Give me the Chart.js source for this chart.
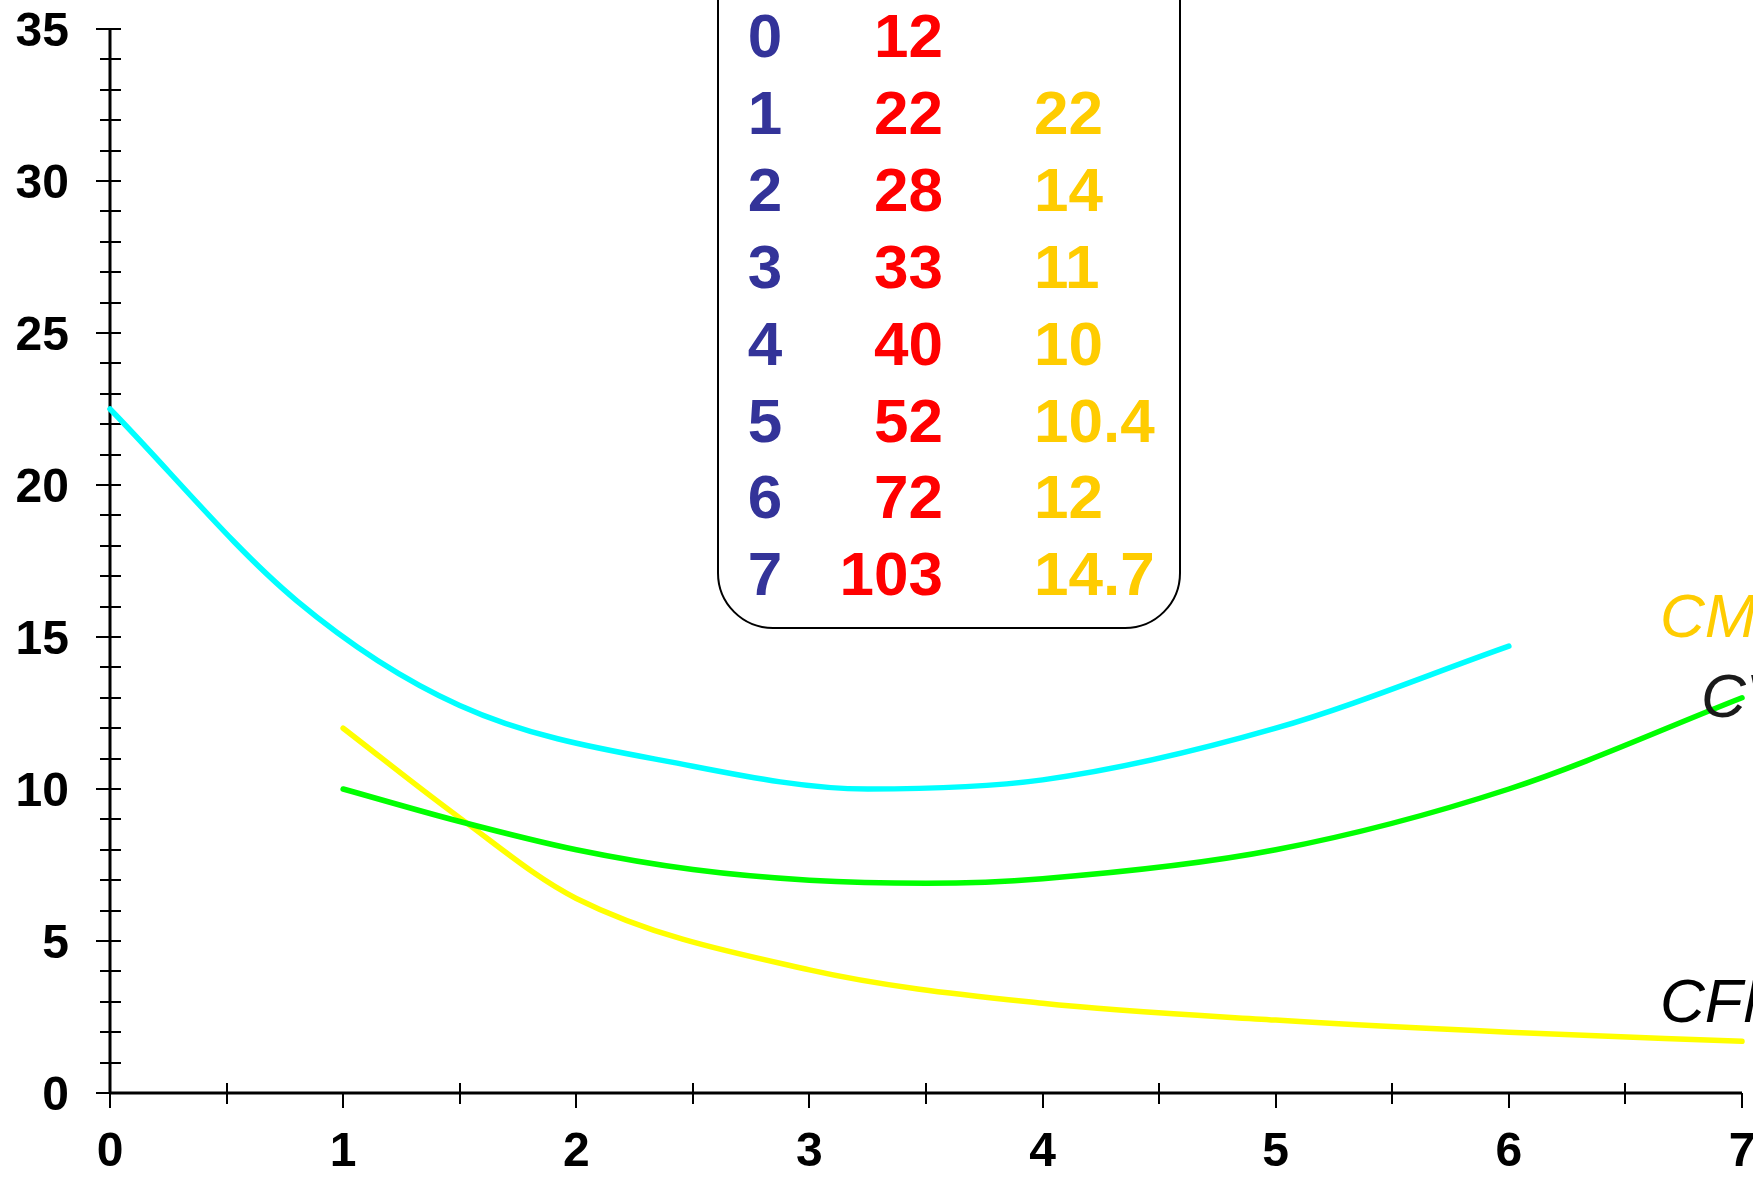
<!DOCTYPE html>
<html>
<head>
<meta charset="utf-8">
<script src="https://cdn.jsdelivr.net/npm/chart.js@4.4.0/dist/chart.umd.min.js"></script>
<style>
    html, body { margin: 0; padding: 0; background: #fff; overflow: hidden; }
    #wrap { width: 1753px; height: 1177px; }
</style>
</head>
<body>
<div id="wrap"><canvas id="costChart" width="1753" height="1177"></canvas></div>
<script>
// curve values
const cmeX = [0, 0.8, 1.5, 2.5, 3.25, 4, 5, 6];
const cmeY = [22.5, 16.2, 12.75, 10.75, 10.0, 10.3, 12.0, 14.7];

const cvmeX = [1, 1.5, 2, 2.5, 3, 3.5, 4, 5, 6, 7];
const cvmeY = [10, 8.93, 8.0, 7.35, 7.0, 6.9, 7.05, 8.0, 10.0, 13.0];

const cfmeX = [1, 1.5, 2, 3, 4, 5, 6, 7];
const cfmeY = [12, 9.05, 6.4, 4.05, 2.95, 2.4, 2.0, 1.7];

// table in the box
const tableQ = ['0', '1', '2', '3', '4', '5', '6', '7'];
const tableCT = ['12', '22', '28', '33', '40', '52', '72', '103'];
const tableCMe = ['', '22', '14', '11', '10', '10.4', '12', '14.7'];

// axis tick labels
const xTickLabels = ['0', '1', '2', '3', '4', '5', '6', '7'];
const yTickLabels = ['0', '5', '10', '15', '20', '25', '30', '35'];

// curve names
const curveLabels = ['CMe', 'CVMe', 'CFMe'];

const COLORS = {
    cme: '#00FFFF',
    cvme: '#00FF00',
    cfme: '#FFFF00',
    q: '#333399',
    ct: '#FF0000',
    avg: '#FFCC00',
    ink: '#000000'
};

const FONT = '"Liberation Sans", Arial, sans-serif';

function toPoints(xs, ys) {
    return xs.map((x, i) => ({ x: x, y: ys[i] }));
}

function lineDataset(label, xs, ys, color) {
    return {
        label: label,
        data: toPoints(xs, ys),
        borderColor: color,
        borderWidth: 5.5,
        pointRadius: 0,
        fill: false,
        cubicInterpolationMode: 'monotone',
        borderCapStyle: 'round',
        borderJoinStyle: 'round',
        clip: false
    };
}

// axes with crossing ticks
const axesPlugin = {
    id: 'axes',
    beforeDatasetsDraw(chart) {
        const { ctx, scales: { x, y } } = chart;
        const x0 = x.getPixelForValue(0);
        const xEnd = x.getPixelForValue(7);
        const y0 = y.getPixelForValue(0);
        const yTop = y.getPixelForValue(35);

        ctx.save();
        ctx.strokeStyle = COLORS.ink;
        ctx.lineWidth = 2;

        for (let v = 0; v <= 35; v++) {
            const py = Math.round(y.getPixelForValue(v));
            const left = v % 5 === 0 ? 14 : 10;
            ctx.beginPath();
            ctx.moveTo(x0 - left, py);
            ctx.lineTo(x0 + 11, py);
            ctx.stroke();
        }

        for (let v = 0; v <= 14; v++) {
            const px = Math.round(x.getPixelForValue(v / 2));
            ctx.beginPath();
            if (v % 2 === 0) {
                ctx.moveTo(px, y0);
                ctx.lineTo(px, y0 + 15);
            } else {
                ctx.moveTo(px, y0 - 10);
                ctx.lineTo(px, y0 + 11);
            }
            ctx.stroke();
        }

        ctx.lineWidth = 3;
        ctx.beginPath();
        ctx.moveTo(x0, yTop);
        ctx.lineTo(x0, y0);
        ctx.moveTo(x0, y0);
        ctx.lineTo(xEnd, y0);
        ctx.stroke();

        // tick labels
        ctx.fillStyle = COLORS.ink;
        ctx.font = 'bold 48px ' + FONT;
        ctx.textBaseline = 'alphabetic';
        ctx.textAlign = 'right';
        yTickLabels.forEach(t => {
            ctx.fillText(t, 69, y.getPixelForValue(Number(t)) + 17);
        });
        ctx.textAlign = 'center';
        xTickLabels.forEach(t => {
            ctx.fillText(t, x.getPixelForValue(Number(t)), 1166);
        });
        ctx.restore();
    },
    afterDraw(chart) {
        const { ctx } = chart;
        ctx.save();

        // rounded box, top edge off the canvas
        const bx = 718, by = -120, bw = 462, bh = 748, r = 55;
        ctx.strokeStyle = COLORS.ink;
        ctx.lineWidth = 2;
        ctx.beginPath();
        ctx.roundRect(bx, by, bw, bh, r);
        ctx.stroke();

        ctx.font = 'bold 62px ' + FONT;
        ctx.textBaseline = 'alphabetic';
        tableQ.forEach((q, i) => {
            const base = 57 + i * 76.9;
            ctx.textAlign = 'center';
            ctx.fillStyle = COLORS.q;
            ctx.fillText(q, 765, base);
            ctx.textAlign = 'right';
            ctx.fillStyle = COLORS.ct;
            ctx.fillText(tableCT[i], 943, base);
            ctx.textAlign = 'left';
            ctx.fillStyle = COLORS.avg;
            ctx.fillText(tableCMe[i], 1034, base);
        });

        // curve names on the right
        ctx.font = 'italic 62px ' + FONT;
        ctx.textAlign = 'left';
        ctx.fillStyle = COLORS.avg;
        ctx.fillText(curveLabels[0], 1660, 637);
        ctx.fillStyle = '#1a1a1a';
        ctx.fillText(curveLabels[1], 1701, 717);
        ctx.fillStyle = COLORS.ink;
        ctx.fillText(curveLabels[2], 1660, 1022);
        ctx.restore();
    }
};

const costChart = new Chart(document.getElementById('costChart'), {
    type: 'line',
    data: {
        datasets: [
            lineDataset(curveLabels[0], cmeX, cmeY, COLORS.cme),
            lineDataset(curveLabels[1], cvmeX, cvmeY, COLORS.cvme),
            lineDataset(curveLabels[2], cfmeX, cfmeY, COLORS.cfme)
        ]
    },
    options: {
        responsive: false,
        animation: false,
        devicePixelRatio: 1,
        layout: {
            padding: { left: 110, right: 11, top: 29, bottom: 84 }
        },
        plugins: {
            legend: { display: false },
            tooltip: { enabled: false }
        },
        scales: {
            x: { type: 'linear', min: 0, max: 7, display: false },
            y: { type: 'linear', min: 0, max: 35, display: false }
        }
    },
    plugins: [axesPlugin]
});
</script>
</body>
</html>
